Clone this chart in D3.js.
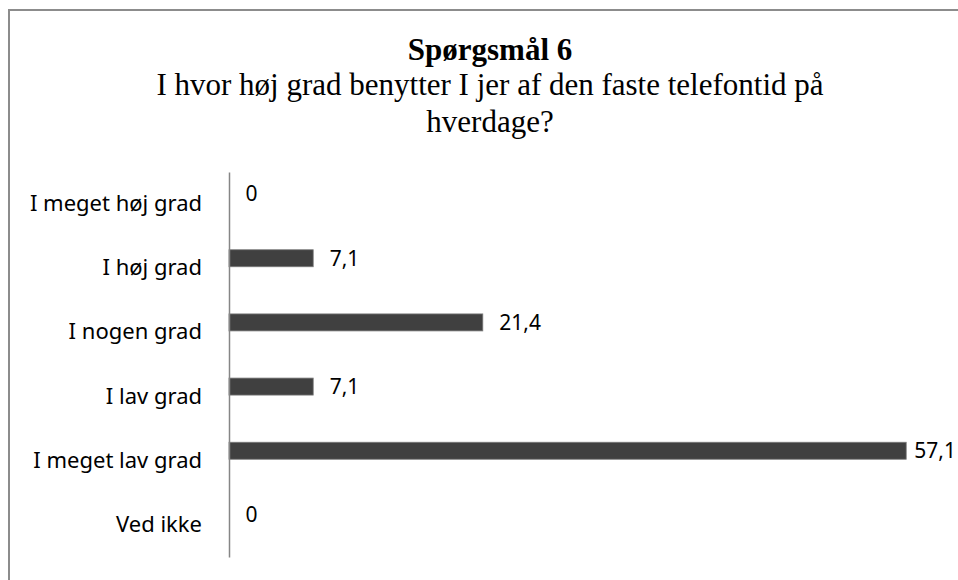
<!DOCTYPE html>
<html>
<head>
<meta charset="utf-8">
<script src="https://cdn.jsdelivr.net/npm/d3@7"></script>
<style>
  body { margin: 0; background: #fff; }
  svg { display: block; }
</style>
</head>
<body>
<div class="canvas"></div>
<script>
// data
var categories = ['I meget høj grad', 'I høj grad', 'I nogen grad', 'I lav grad', 'I meget lav grad', 'Ved ikke']
var values = [0, 7.1, 21.4, 7.1, 57.1, 0]
var valueLabels = ['0', '7,1', '21,4', '7,1', '57,1', '0']
var title = 'Spørgsmål 6'
var subtitleLines = ['I hvor høj grad benytter I jer af den faste telefontid på', 'hverdage?']

var width = 958, height = 580

var svg = d3.select('.canvas').append('svg').attr('width', width).attr('height', height)

// chart frame (cut off at right and bottom)
svg.append('rect')
    .attr('x', 9)
    .attr('y', 10)
    .attr('width', 1000)
    .attr('height', 1000)
    .attr('fill', 'white')
    .attr('stroke', '#8c8c8c')
    .attr('stroke-width', 2)

var titleX = 490

svg.append('text')
    .attr('x', titleX)
    .attr('y', 60)
    .attr('text-anchor', 'middle')
    .attr('font-family', 'Liberation Serif, serif')
    .attr('font-weight', 'bold')
    .attr('font-size', 31)
    .text(title)

svg.selectAll('.subtitle')
    .data(subtitleLines)
    .enter().append('text')
    .attr('class', 'subtitle')
    .attr('x', titleX)
    .attr('y', (d, i) => 94.5 + i * 37.5)
    .attr('text-anchor', 'middle')
    .attr('font-family', 'Liberation Serif, serif')
    .attr('font-size', 31)
    .text(d => d)

// scales
var y = d3.scaleBand().domain(categories).range([172, 557])
var x = d3.scaleLinear().domain([0, 60]).range([229, 940.6])

var barH = 17

svg.selectAll('.bar')
    .data(values)
    .enter().append('rect')
    .attr('class', 'bar')
    .attr('x', x(0))
    .attr('y', (d, i) => y(categories[i]) + y.bandwidth() / 2 - 18.5)
    .attr('width', d => x(d) - x(0))
    .attr('height', barH)
    .attr('fill', '#404040')
    .attr('stroke', d => d > 0 ? '#7a7a7a' : 'none')
    .attr('stroke-width', 0.8)

// value labels - pushed back inside the picture if they would run off the edge
svg.selectAll('.vlabel')
    .data(values)
    .enter().append('text')
    .attr('class', 'vlabel')
    .attr('y', (d, i) => y(categories[i]) + y.bandwidth() / 2 - 10)
    .attr('dy', '0.35em')
    .attr('font-family', 'Noto Sans, sans-serif')
    .attr('font-size', 21)
    .attr('fill', '#000')
    .text((d, i) => valueLabels[i])
    .attr('x', function(d) {
        var w = this.getComputedTextLength()
        return Math.min(x(d) + 16.5, width - 2 - w)
    })

// category axis
var yAxis = d3.axisLeft(y).tickSize(0).tickPadding(27)
var g = svg.append('g').attr('transform', 'translate(' + x(0) + ',0)').call(yAxis)
g.select('.domain').attr('stroke', '#868686').attr('stroke-width', 1.5)
g.selectAll('text')
    .attr('font-family', 'Noto Sans, sans-serif')
    .attr('font-size', 22)
    .attr('fill', '#000')
</script>
</body>
</html>
